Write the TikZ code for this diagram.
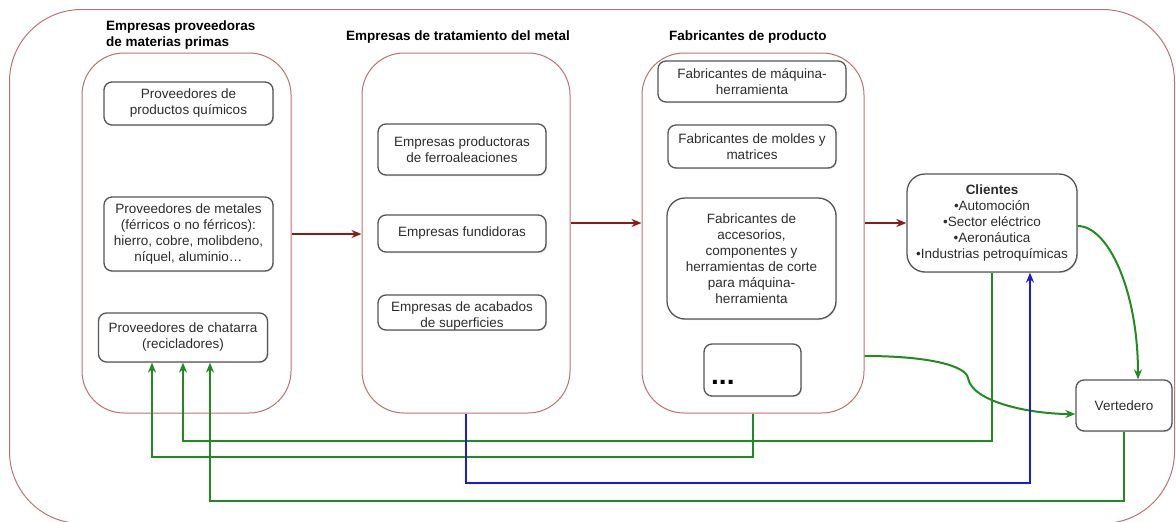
\documentclass[tikz,border=0pt]{standalone}
\usepackage{fontspec}
\setmainfont{Liberation Sans}
\usetikzlibrary{arrows.meta,shadows}
\definecolor{contred}{RGB}{192,112,112}
\definecolor{arrred}{RGB}{140,25,25}
\definecolor{grn}{RGB}{30,140,30}
\definecolor{blu}{RGB}{25,25,235}
\definecolor{boxgray}{RGB}{85,85,85}
\definecolor{txtgray}{RGB}{45,45,45}
\begin{document}
\begin{tikzpicture}[x=1pt,y=-1pt,
  box/.style={draw=boxgray, line width=1.3pt, rounded corners=8pt, fill=white, align=center,
    inner sep=0pt, text=txtgray, font=\fontsize{13.5}{16}\selectfont,
    drop shadow={opacity=0.25, shadow xshift=1pt, shadow yshift=-1pt}},
  cont/.style={draw=contred, line width=1pt, rounded corners=42pt, inner sep=0pt},
  ttl/.style={font=\fontsize{13.5}{16}\selectfont\bfseries, align=left, anchor=west, inner sep=0pt},
  redarr/.style={draw=arrred, line width=2pt, -{Stealth[length=10pt,width=8pt]}},
  grnarr/.style={draw=grn, line width=2pt, -{Stealth[length=10pt,width=8pt]}},
  bluarr/.style={draw=blu, line width=2pt, -{Stealth[length=10pt,width=8pt]}}]
\useasboundingbox (0,0) rectangle (1176,522);
\begin{scope}
\clip (0,0) rectangle (1176,522);
\node[draw=contred, line width=1pt, rounded corners=72pt, minimum width=1165pt, minimum height=514pt, inner sep=0pt] (outer) at (592,266.5) {};
\end{scope}

% titles
\node[ttl] (t1) at (106,35) {Empresas proveedoras\\de materias primas};
\node[ttl] (t2) at (346,37) {Empresas de tratamiento del metal};
\node[ttl] (t3) at (669,37) {Fabricantes de producto};

% containers
\node[cont, minimum width=209pt, minimum height=360pt] (c1) at (186.5,233) {};
\node[cont, minimum width=208pt, minimum height=360pt] (c2) at (466,233) {};
\node[cont, minimum width=222pt, minimum height=360pt] (c3) at (753,233) {};

% column 1
\node[box, minimum width=169pt, minimum height=43pt] (quim) at (188.5,103.5) {Proveedores de\\productos químicos};
\node[box, minimum width=169pt, minimum height=74pt] (metal) at (188.5,234) {Proveedores de metales\\(férricos o no férricos):\\hierro, cobre, molibdeno,\\níquel, aluminio…};
\node[box, minimum width=169pt, minimum height=49pt] (chat) at (183,337.5) {Proveedores de chatarra\\(recicladores)};

% column 2
\node[box, minimum width=168pt, minimum height=51pt] (ferro) at (462,149.5) {Empresas productoras\\de ferroaleaciones};
\node[box, minimum width=168pt, minimum height=37pt] (fund) at (462,233.5) {Empresas fundidoras};
\node[box, minimum width=168pt, minimum height=35pt] (acab) at (462,312.5) {};
\node[align=center, inner sep=0pt, text=txtgray, font=\fontsize{13.5}{16}\selectfont] (acabt) at (462,316.5) {Empresas de acabados\\de superficies};

% column 3
\node[box, minimum width=188pt, minimum height=41pt] (maq) at (752,81.5) {Fabricantes de máquina-\\herramienta};
\node[box, minimum width=168pt, minimum height=43pt] (mold) at (752,146.5) {Fabricantes de moldes y\\matrices};
\node[box, rounded corners=18pt, minimum width=169pt, minimum height=121pt] (acc) at (751.5,258.5) {Fabricantes de\\accesorios,\\componentes y\\herramientas de corte\\para máquina-\\herramienta};
\node[box, minimum width=97pt, minimum height=52pt] (dots) at (752.5,370) {};
\node[anchor=base west, inner sep=0pt, font=\fontsize{28}{28}\selectfont\bfseries] (dotst) at (711,384) {...};

% clients and landfill
\node[box, rounded corners=18pt, minimum width=170pt, minimum height=98pt] (cli) at (992,223) {\textbf{Clientes}\\•Automoción\\•Sector eléctrico\\•Aeronáutica\\•Industrias petroquímicas};
\node[box, minimum width=96pt, minimum height=51pt] (vert) at (1124,405.5) {Vertedero};

% red flow arrows
\draw[redarr] (c1.east |- metal.east) -- (c2.west |- metal.east);
\draw[redarr] (c2.east |- cli.west) -- (c3.west |- cli.west);
\draw[redarr] (c3.east |- cli.west) -- (cli.west);

% green to landfill
\draw[grnarr] ([yshift=-3pt]cli.east) .. controls (1108,226) and (1138,290) .. ([xshift=14pt]vert.north);
\coordinate (s1) at (c3.east |- 0,356);
\draw[grnarr] (s1) .. controls (930,356) and (966,366) .. (968,378) .. controls (972,402) and (1030,414) .. ([yshift=-8.5pt]vert.west);

% recycling returns
\draw[grnarr] (cli.south) -- ++(0,168) -| (chat.south);
\draw[grnarr] (c3.south) -- ++(0,43) -| ([xshift=-31pt]chat.south);
\draw[grnarr] (vert.south) -- ++(0,69) -| ([xshift=27pt]chat.south);

% blue
\draw[bluarr] (c2.south) -- ++(0,69) -| ([xshift=38pt]cli.south);
\end{tikzpicture}
\end{document}
